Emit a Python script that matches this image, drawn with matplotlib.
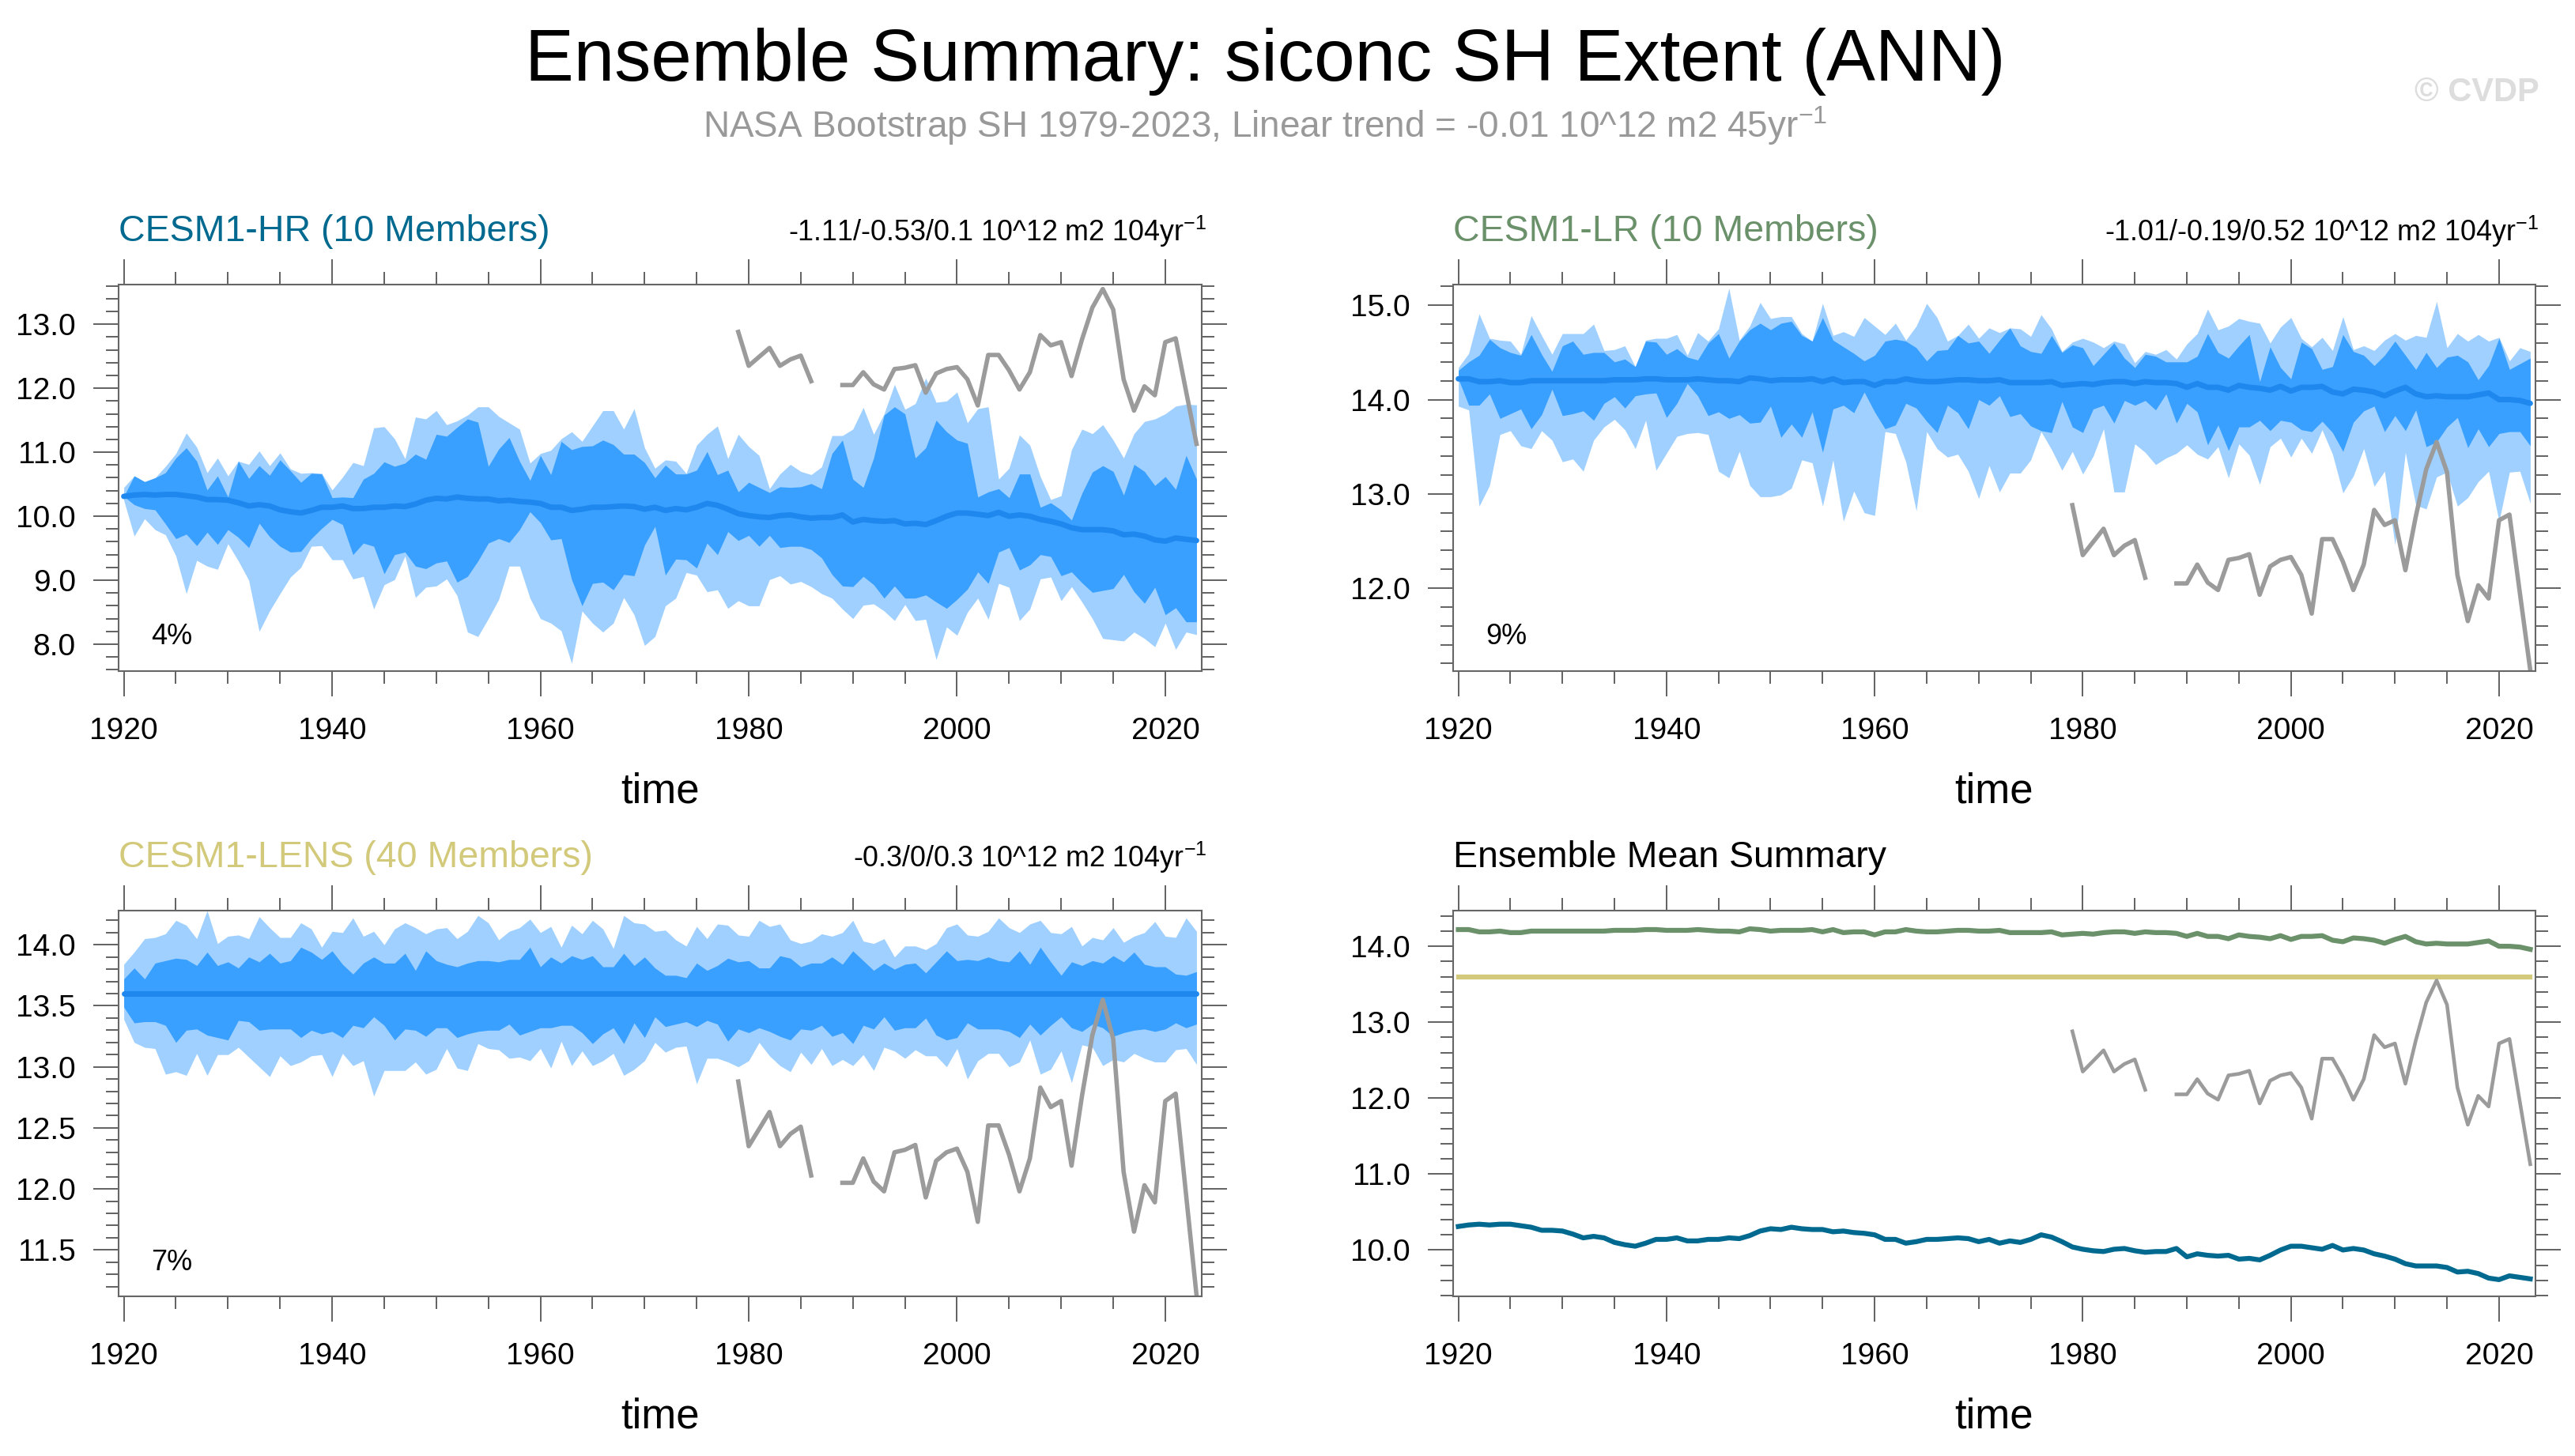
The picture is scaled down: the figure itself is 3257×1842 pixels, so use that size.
import numpy as np
import matplotlib
matplotlib.use('Agg')
import matplotlib.pyplot as plt
from matplotlib.ticker import MultipleLocator, FormatStrFormatter

plt.rcParams['font.family'] = ['Liberation Sans', 'DejaVu Sans']
plt.rcParams['mathtext.fontset'] = 'custom'
plt.rcParams['mathtext.rm'] = 'Liberation Sans'
plt.rcParams['mathtext.default'] = 'regular'

years = np.arange(1920, 2024)
obs_years = np.arange(1979, 2024)

# NASA Bootstrap observations (1987-1988 missing)
obs = [12.88, 12.35, 12.49, 12.63, 12.35, 12.45, 12.51, 12.11, np.nan, np.nan,
       12.05, 12.05, 12.25, 12.06, 11.98, 12.30, 12.32, 12.36, 11.93, 12.23,
       12.30, 12.33, 12.14, 11.73, 12.52, 12.52, 12.28, 11.98, 12.25, 12.83,
       12.67, 12.72, 12.19, 12.76, 13.26, 13.55, 13.23, 12.14, 11.65, 12.03,
       11.89, 12.72, 12.78, 11.95, 11.13]

# CESM1-HR: outer upper, inner upper, mean, inner lower, outer lower
hr_hi = [10.45, 10.63, 10.54, 10.60, 10.78, 10.98, 11.30, 11.08, 10.68, 10.91,
         10.63, 10.86, 10.81, 11.02, 10.79, 10.99, 10.74, 10.67, 10.68, 10.67,
         10.41, 10.61, 10.84, 10.79, 11.38, 11.40, 11.21, 10.90, 11.55, 11.52,
         11.65, 11.43, 11.49, 11.58, 11.71, 11.71, 11.56, 11.46, 11.36, 10.83,
         10.98, 11.03, 11.21, 11.32, 11.17, 11.41, 11.65, 11.65, 11.36, 11.68,
         11.07, 10.75, 10.88, 10.86, 10.67, 11.11, 11.28, 11.41, 10.90, 11.28,
         11.09, 10.95, 10.43, 10.66, 10.81, 10.70, 10.65, 10.77, 11.26, 11.26,
         11.36, 11.70, 11.28, 11.60, 12.06, 11.67, 11.76, 12.16, 11.78, 11.80,
         11.94, 11.46, 11.68, 11.71, 10.58, 10.75, 11.27, 11.11, 10.62, 10.26,
         10.32, 11.04, 11.36, 11.29, 11.43, 11.19, 10.91, 11.29, 11.48, 11.52,
         11.60, 11.72, 11.75, 11.74]
hr_q3 = [10.31, 10.63, 10.54, 10.60, 10.68, 10.91, 11.07, 10.86, 10.41, 10.63,
         10.30, 10.86, 10.59, 10.79, 10.64, 10.88, 10.71, 10.53, 10.67, 10.66,
         10.29, 10.30, 10.29, 10.58, 10.67, 10.85, 10.78, 10.83, 10.97, 10.89,
         11.28, 11.25, 11.39, 11.52, 11.47, 10.78, 11.05, 11.23, 10.86, 10.56,
         10.95, 10.65, 11.17, 11.04, 11.09, 11.10, 11.19, 11.12, 10.97, 10.97,
         10.84, 10.60, 10.80, 10.66, 10.66, 10.72, 11.01, 10.65, 10.72, 10.38,
         10.53, 10.45, 10.37, 10.46, 10.45, 10.46, 10.51, 10.43, 10.98, 11.19,
         10.58, 10.45, 10.91, 11.58, 11.71, 11.60, 10.91, 11.07, 11.50, 11.32,
         11.19, 11.14, 10.30, 10.38, 10.43, 10.29, 10.66, 10.66, 10.14, 10.21,
         10.10, 9.94, 10.36, 10.69, 10.79, 10.70, 10.33, 10.81, 10.70, 10.48,
         10.62, 10.42, 10.95, 10.58]
hr_mean = [10.31, 10.33, 10.34, 10.33, 10.34, 10.34, 10.32, 10.30, 10.26, 10.26,
           10.25, 10.21, 10.16, 10.18, 10.16, 10.10, 10.07, 10.05, 10.09, 10.14,
           10.14, 10.16, 10.12, 10.12, 10.14, 10.14, 10.16, 10.15, 10.19, 10.25,
           10.28, 10.27, 10.30, 10.28, 10.27, 10.27, 10.24, 10.25, 10.23, 10.22,
           10.20, 10.14, 10.14, 10.09, 10.11, 10.14, 10.14, 10.15, 10.16, 10.15,
           10.11, 10.14, 10.09, 10.12, 10.10, 10.14, 10.20, 10.17, 10.11, 10.04,
           10.01, 9.99, 9.98, 10.01, 10.02, 9.99, 9.97, 9.98, 9.98, 10.02,
           9.91, 9.95, 9.93, 9.92, 9.93, 9.88, 9.89, 9.87, 9.93, 10.00,
           10.05, 10.05, 10.03, 10.01, 10.06, 10.00, 10.02, 10.00, 9.95, 9.92,
           9.88, 9.82, 9.79, 9.79, 9.79, 9.77, 9.71, 9.72, 9.69, 9.63,
           9.61, 9.66, 9.64, 9.62]
hr_q1 = [10.31, 10.18, 10.12, 10.10, 9.88, 9.65, 9.72, 9.54, 9.75, 9.56,
         9.79, 9.67, 9.51, 9.89, 9.68, 9.53, 9.44, 9.45, 9.65, 9.81,
         9.95, 9.87, 9.40, 9.58, 9.53, 9.10, 9.40, 9.44, 9.22, 9.18,
         9.27, 9.30, 8.97, 9.06, 9.30, 9.58, 9.65, 9.59, 9.79, 10.07,
         9.90, 9.63, 9.65, 9.01, 8.60, 8.95, 8.97, 8.85, 9.09, 9.07,
         9.55, 9.84, 9.08, 9.33, 9.32, 9.19, 9.58, 9.40, 9.76, 9.62,
         9.70, 9.53, 9.70, 9.51, 9.53, 9.53, 9.48, 9.35, 9.09, 8.91,
         8.90, 9.06, 8.93, 8.72, 8.91, 8.72, 8.72, 8.77, 8.66, 8.56,
         8.70, 8.86, 9.13, 8.95, 9.44, 9.51, 9.16, 9.24, 9.40, 9.37,
         9.07, 9.13, 8.96, 8.81, 8.84, 8.87, 9.09, 8.82, 8.64, 8.89,
         8.46, 8.57, 8.35, 8.35]
hr_lo = [10.25, 9.69, 9.96, 9.79, 9.71, 9.38, 8.79, 9.31, 9.22, 9.17,
         9.57, 9.30, 9.00, 8.20, 8.52, 8.79, 9.05, 9.20, 9.53, 9.54,
         9.32, 9.32, 9.02, 9.06, 8.55, 8.93, 9.01, 9.38, 8.73, 8.89,
         8.91, 9.02, 8.76, 8.19, 8.12, 8.40, 8.70, 9.22, 9.22, 8.72,
         8.40, 8.33, 8.21, 7.70, 8.52, 8.33, 8.19, 8.33, 8.73, 8.46,
         7.98, 8.12, 8.60, 8.72, 9.12, 9.08, 8.82, 8.85, 8.56, 8.68,
         8.60, 8.60, 9.01, 9.07, 8.94, 8.98, 8.90, 8.79, 8.72, 8.55,
         8.40, 8.61, 8.63, 8.52, 8.37, 8.62, 8.37, 8.39, 7.76, 8.27,
         8.14, 8.50, 8.72, 8.39, 8.95, 8.89, 8.37, 8.55, 9.02, 9.05,
         8.68, 8.90, 8.66, 8.40, 8.09, 8.07, 8.05, 8.19, 8.09, 7.96,
         8.33, 7.92, 8.19, 8.15]

# CESM1-LR
lr_hi = [14.34, 14.49, 14.91, 14.65, 14.63, 14.62, 14.48, 14.89, 14.68, 14.48,
         14.70, 14.70, 14.70, 14.80, 14.52, 14.53, 14.57, 14.35, 14.63, 14.65,
         14.65, 14.69, 14.47, 14.71, 14.62, 14.75, 15.18, 14.63, 14.78, 15.03,
         14.86, 14.88, 14.88, 14.70, 14.62, 15.02, 14.68, 14.72, 14.67, 14.87,
         14.78, 14.69, 14.81, 14.63, 14.78, 15.02, 14.87, 14.62, 14.68, 14.80,
         14.65, 14.76, 14.71, 14.76, 14.75, 14.67, 14.90, 14.75, 14.51, 14.61,
         14.65, 14.61, 14.55, 14.62, 14.59, 14.39, 14.51, 14.48, 14.53, 14.43,
         14.59, 14.70, 14.96, 14.74, 14.78, 14.86, 14.83, 14.81, 14.60, 14.77,
         14.87, 14.65, 14.56, 14.66, 14.52, 14.88, 14.53, 14.57, 14.52, 14.63,
         14.70, 14.63, 14.68, 14.66, 15.04, 14.55, 14.70, 14.62, 14.69, 14.62,
         14.66, 14.41, 14.55, 14.51]
lr_q3 = [14.31, 14.40, 14.47, 14.64, 14.55, 14.50, 14.47, 14.69, 14.48, 14.30,
         14.57, 14.62, 14.48, 14.50, 14.50, 14.40, 14.43, 14.35, 14.62, 14.61,
         14.48, 14.54, 14.45, 14.42, 14.60, 14.70, 14.44, 14.62, 14.74, 14.81,
         14.74, 14.81, 14.83, 14.68, 14.62, 14.87, 14.63, 14.56, 14.49, 14.41,
         14.47, 14.62, 14.64, 14.62, 14.55, 14.41, 14.52, 14.53, 14.68, 14.60,
         14.62, 14.49, 14.63, 14.76, 14.57, 14.51, 14.49, 14.68, 14.50, 14.58,
         14.55, 14.36, 14.48, 14.60, 14.44, 14.34, 14.48, 14.46, 14.40, 14.40,
         14.40, 14.46, 14.70, 14.50, 14.44, 14.57, 14.69, 14.19, 14.56, 14.34,
         14.22, 14.61, 14.54, 14.32, 14.35, 14.69, 14.51, 14.47, 14.36, 14.47,
         14.62, 14.47, 14.32, 14.50, 14.34, 14.45, 14.47, 14.40, 14.21, 14.36,
         14.65, 14.32, 14.38, 14.44]
lr_mean = [14.22, 14.22, 14.19, 14.19, 14.20, 14.18, 14.18, 14.20, 14.20, 14.20,
           14.20, 14.20, 14.20, 14.20, 14.20, 14.21, 14.21, 14.21, 14.22, 14.22,
           14.21, 14.21, 14.21, 14.22, 14.21, 14.20, 14.20, 14.19, 14.23, 14.22,
           14.20, 14.21, 14.21, 14.21, 14.22, 14.19, 14.22, 14.18, 14.19, 14.19,
           14.15, 14.19, 14.19, 14.22, 14.20, 14.19, 14.19, 14.20, 14.21, 14.21,
           14.20, 14.20, 14.21, 14.18, 14.18, 14.18, 14.18, 14.19, 14.15, 14.16,
           14.17, 14.16, 14.18, 14.19, 14.19, 14.17, 14.19, 14.18, 14.18, 14.17,
           14.13, 14.17, 14.13, 14.13, 14.10, 14.15, 14.13, 14.12, 14.10, 14.14,
           14.09, 14.13, 14.13, 14.14, 14.08, 14.06, 14.11, 14.10, 14.08, 14.04,
           14.09, 14.13, 14.06, 14.03, 14.04, 14.03, 14.03, 14.03, 14.05, 14.07,
           14.00, 14.00, 13.99, 13.96]
lr_q1 = [14.22, 13.94, 13.94, 14.06, 13.80, 13.85, 13.90, 13.69, 13.84, 14.11,
         13.83, 13.85, 13.88, 13.78, 13.96, 14.03, 13.91, 14.04, 14.06, 14.07,
         13.81, 13.96, 14.17, 14.04, 13.83, 13.87, 13.80, 13.84, 13.75, 13.76,
         13.93, 13.60, 13.74, 13.60, 13.87, 13.44, 13.90, 13.94, 13.86, 14.08,
         13.87, 13.69, 13.73, 13.96, 13.91, 13.77, 13.65, 13.94, 13.86, 13.69,
         14.00, 13.94, 14.04, 13.82, 13.85, 13.72, 13.67, 13.65, 13.98, 13.71,
         13.65, 13.90, 13.94, 13.75, 13.99, 13.94, 13.99, 13.89, 14.06, 13.75,
         13.96, 13.87, 13.52, 13.73, 13.46, 13.71, 13.71, 13.78, 13.67, 13.78,
         13.76, 13.68, 13.66, 13.77, 13.65, 13.45, 13.76, 13.88, 13.93, 13.66,
         13.83, 13.67, 13.89, 13.50, 13.55, 13.71, 13.81, 13.49, 13.69, 13.50,
         13.64, 13.66, 13.66, 13.51]
lr_lo = [13.93, 13.89, 12.87, 13.09, 13.63, 13.67, 13.51, 13.48, 13.67, 13.57,
         13.34, 13.37, 13.24, 13.57, 13.71, 13.79, 13.68, 13.48, 13.78, 13.25,
         13.43, 13.61, 13.64, 13.65, 13.63, 13.24, 13.17, 13.45, 13.09, 12.97,
         12.97, 12.99, 13.06, 13.36, 13.33, 12.87, 13.36, 12.71, 13.03, 12.80,
         12.77, 13.66, 13.64, 13.34, 12.82, 13.66, 13.48, 13.39, 13.42, 13.24,
         12.95, 13.30, 13.02, 13.22, 13.22, 13.36, 13.66, 13.47, 13.25, 13.45,
         13.21, 13.40, 13.69, 13.02, 13.02, 13.53, 13.44, 13.31, 13.38, 13.43,
         13.52, 13.42, 13.37, 13.50, 13.17, 13.53, 13.41, 13.10, 13.50, 13.59,
         13.39, 13.59, 13.43, 13.68, 13.42, 13.01, 13.19, 13.48, 13.08, 13.24,
         12.46, 13.44, 12.88, 12.84, 13.18, 13.23, 12.87, 12.96, 13.13, 13.24,
         12.71, 13.23, 13.24, 12.90]

# CESM1-LENS
lens_hi = [13.84, 13.94, 14.05, 14.06, 14.09, 14.20, 14.16, 14.05, 14.28, 14.01,
           14.07, 14.08, 14.05, 14.23, 14.14, 14.06, 14.06, 14.18, 14.13, 13.98,
           14.11, 14.10, 14.22, 14.07, 14.11, 14.00, 14.13, 14.18, 14.14, 14.09,
           14.13, 14.14, 14.05, 14.11, 14.24, 14.18, 14.04, 14.11, 14.14, 14.21,
           14.10, 14.15, 13.98, 14.16, 14.09, 14.20, 14.13, 13.97, 14.24, 14.18,
           14.17, 14.11, 14.12, 14.04, 13.99, 14.15, 14.05, 14.17, 14.16, 14.08,
           14.07, 14.20, 14.15, 14.17, 14.04, 14.01, 14.03, 14.09, 14.07, 14.10,
           14.20, 14.03, 14.01, 14.05, 13.90, 13.99, 13.99, 13.96, 14.01, 14.14,
           14.17, 14.08, 14.07, 14.11, 14.22, 14.14, 14.10, 14.17, 14.20, 14.10,
           14.09, 14.15, 13.99, 14.06, 14.04, 14.14, 14.02, 14.07, 14.10, 14.19,
           14.07, 14.06, 14.22, 14.11]
lens_q3 = [13.72, 13.81, 13.72, 13.85, 13.87, 13.89, 13.88, 13.83, 13.94, 13.83,
           13.86, 13.81, 13.90, 13.86, 13.93, 13.85, 13.87, 13.98, 13.94, 13.88,
           13.95, 13.84, 13.76, 13.85, 13.90, 13.85, 13.85, 13.93, 13.79, 13.95,
           13.87, 13.84, 13.82, 13.85, 13.87, 13.87, 13.86, 13.88, 13.88, 13.98,
           13.82, 13.90, 13.85, 13.91, 13.88, 13.91, 13.82, 13.82, 13.93, 13.83,
           13.90, 13.81, 13.75, 13.75, 13.73, 13.85, 13.79, 13.83, 13.89, 13.86,
           13.87, 13.81, 13.81, 13.91, 13.89, 13.82, 13.85, 13.85, 13.90, 13.84,
           13.95, 13.87, 13.79, 13.85, 13.80, 13.84, 13.85, 13.77, 13.86, 13.95,
           13.87, 13.88, 13.87, 13.90, 13.87, 13.86, 13.95, 13.84, 13.98, 13.86,
           13.75, 13.86, 13.83, 13.87, 13.85, 13.91, 13.86, 13.94, 13.84, 13.82,
           13.82, 13.76, 13.75, 13.78]
lens_mean = [13.60, 13.60, 13.60, 13.60, 13.60, 13.60, 13.60, 13.60, 13.60, 13.60,
             13.60, 13.60, 13.60, 13.60, 13.60, 13.60, 13.60, 13.60, 13.60, 13.60,
             13.60, 13.60, 13.60, 13.60, 13.60, 13.60, 13.60, 13.60, 13.60, 13.60,
             13.60, 13.60, 13.60, 13.60, 13.60, 13.60, 13.60, 13.60, 13.60, 13.60,
             13.60, 13.60, 13.60, 13.60, 13.60, 13.60, 13.60, 13.60, 13.60, 13.60,
             13.60, 13.60, 13.60, 13.60, 13.60, 13.60, 13.60, 13.60, 13.60, 13.60,
             13.60, 13.60, 13.60, 13.60, 13.60, 13.60, 13.60, 13.60, 13.60, 13.60,
             13.60, 13.60, 13.60, 13.60, 13.60, 13.60, 13.60, 13.60, 13.60, 13.60,
             13.60, 13.60, 13.60, 13.60, 13.60, 13.60, 13.60, 13.60, 13.60, 13.60,
             13.60, 13.60, 13.60, 13.60, 13.60, 13.60, 13.60, 13.60, 13.60, 13.60,
             13.60, 13.60, 13.60, 13.60]
lens_q1 = [13.49, 13.36, 13.37, 13.37, 13.34, 13.20, 13.30, 13.31, 13.26, 13.24,
           13.22, 13.38, 13.37, 13.30, 13.31, 13.31, 13.31, 13.24, 13.30, 13.27,
           13.29, 13.24, 13.34, 13.32, 13.41, 13.34, 13.22, 13.31, 13.30, 13.25,
           13.32, 13.32, 13.24, 13.27, 13.29, 13.30, 13.30, 13.35, 13.26, 13.29,
           13.32, 13.32, 13.34, 13.34, 13.28, 13.19, 13.27, 13.32, 13.19, 13.36,
           13.24, 13.41, 13.33, 13.35, 13.37, 13.33, 13.38, 13.35, 13.21, 13.31,
           13.28, 13.32, 13.29, 13.25, 13.22, 13.31, 13.30, 13.34, 13.25, 13.28,
           13.19, 13.34, 13.31, 13.41, 13.30, 13.32, 13.32, 13.40, 13.26, 13.22,
           13.24, 13.36, 13.31, 13.31, 13.31, 13.29, 13.24, 13.35, 13.26, 13.34,
           13.41, 13.32, 13.29, 13.35, 13.32, 13.25, 13.28, 13.30, 13.31, 13.29,
           13.31, 13.36, 13.32, 13.35]
lens_lo = [13.39, 13.20, 13.16, 13.15, 12.94, 12.96, 12.93, 13.11, 12.93, 13.10,
           13.10, 13.16, 13.08, 13.00, 12.92, 13.09, 13.01, 13.04, 13.09, 13.10,
           12.92, 13.11, 13.01, 13.05, 12.76, 12.97, 12.97, 12.97, 13.04, 12.94,
           12.98, 13.15, 12.99, 12.97, 13.19, 13.15, 13.14, 13.07, 13.08, 13.05,
           13.15, 12.99, 13.21, 13.01, 13.13, 13.01, 13.05, 13.11, 12.93, 12.98,
           13.05, 13.20, 13.12, 13.16, 13.17, 12.86, 13.07, 13.07, 13.04, 13.00,
           13.05, 13.20, 13.09, 13.01, 12.96, 13.12, 13.02, 13.15, 13.01, 13.06,
           13.01, 13.10, 12.97, 13.16, 13.13, 13.07, 13.14, 13.09, 13.09, 13.00,
           13.15, 12.90, 13.05, 13.11, 13.11, 13.00, 13.04, 13.22, 12.94, 12.98,
           13.13, 12.87, 13.18, 13.16, 13.01, 13.06, 13.04, 13.11, 13.07, 13.04,
           13.04, 13.14, 13.15, 13.02]

LIGHT = '#9fd0ff'
DARK = '#39a0ff'
MEANC = '#1f88ee'
GRAY = '#9b9b9b'
HRC = '#00698f'
LRC = '#6b916b'
LENSC = '#d2c97a'

W, H = 3257, 1842


def fx(px):
    return px / W


def fy(py):
    return 1 - py / H


fig = plt.figure(figsize=(W / 100, H / 100), dpi=100)

ax1 = fig.add_axes([fx(150), fy(849), fx(1370), 489 / H])
ax2 = fig.add_axes([fx(1838), fy(849), fx(1369), 489 / H])
ax3 = fig.add_axes([fx(150), fy(1640), fx(1370), 488 / H])
ax4 = fig.add_axes([fx(1838), fy(1640), fx(1369), 488 / H])


def style(ax, ylo, yhi, ymaj, ymin):
    ax.set_xlim(1919.5, 2023.5)
    ax.set_ylim(ylo, yhi)
    ax.xaxis.set_major_locator(MultipleLocator(20))
    ax.xaxis.set_minor_locator(MultipleLocator(5))
    ax.yaxis.set_major_locator(MultipleLocator(ymaj))
    ax.yaxis.set_minor_locator(MultipleLocator(ymin))
    ax.yaxis.set_major_formatter(FormatStrFormatter('%.1f'))
    ax.tick_params(which='both', direction='out', top=True, right=True,
                   color='#555555', width=1.3)
    ax.tick_params(which='major', length=23, labelsize=28)
    ax.tick_params(axis='x', which='major', pad=19)
    ax.tick_params(axis='y', which='major', pad=16)
    ax.tick_params(which='minor', length=11.5)
    for s in ax.spines.values():
        s.set_color('#666666')
        s.set_linewidth(1.5)
    ax.set_xlabel('time', fontsize=38, labelpad=24)


def ensemble(ax, hi, q3, mean, q1, lo, pct):
    ax.fill_between(years, lo, hi, color=LIGHT, lw=0)
    ax.fill_between(years, q1, q3, color=DARK, lw=0)
    ax.plot(years, mean, color=MEANC, lw=5, solid_capstyle='round')
    ax.plot(obs_years, obs, color=GRAY, lw=4)
    ax.text(0.03, 0.088, pct, transform=ax.transAxes, fontsize=26, va='center')


ensemble(ax1, hr_hi, hr_q3, hr_mean, hr_q1, hr_lo, '4%')
style(ax1, 7.58, 13.62, 1.0, 0.2)

ensemble(ax2, lr_hi, lr_q3, lr_mean, lr_q1, lr_lo, '9%')
style(ax2, 11.12, 15.22, 1.0, 0.2)

ensemble(ax3, lens_hi, lens_q3, lens_mean, lens_q1, lens_lo, '7%')
style(ax3, 11.12, 14.28, 0.5, 0.1)

ax4.plot(years, lr_mean, color=LRC, lw=4.5)
ax4.plot(years, lens_mean, color=LENSC, lw=4.5)
ax4.plot(years, hr_mean, color=HRC, lw=4.5)
ax4.plot(obs_years, obs, color=GRAY, lw=3.3)
style(ax4, 9.39, 14.47, 1.0, 0.2)

# titles
fig.text(fx(1600), fy(102), 'Ensemble Summary: siconc SH Extent (ANN)',
         fontsize=66.7, ha='center', va='baseline')
fig.text(fx(1600), fy(174),
         'NASA Bootstrap SH 1979-2023, Linear trend = -0.01 10^12 m2 45yr$^{-1}$',
         fontsize=33, color='#999999', ha='center', va='baseline')
fig.text(fx(3212), fy(128), '\u00a9 CVDP', fontsize=30, fontweight='bold',
         color='#dddddd', ha='right', va='baseline')

fig.text(fx(150), fy(305), 'CESM1-HR (10 Members)', fontsize=33.5,
         color=HRC, va='baseline')
fig.text(fx(1526), fy(305), '-1.11/-0.53/0.1 10^12 m2 104yr$^{-1}$',
         fontsize=25.8, ha='right', va='baseline')
fig.text(fx(1838), fy(305), 'CESM1-LR (10 Members)', fontsize=33.5,
         color=LRC, va='baseline')
fig.text(fx(3211), fy(305), '-1.01/-0.19/0.52 10^12 m2 104yr$^{-1}$',
         fontsize=25.8, ha='right', va='baseline')
fig.text(fx(150), fy(1097), 'CESM1-LENS (40 Members)', fontsize=33.5,
         color=LENSC, va='baseline')
fig.text(fx(1526), fy(1097), '-0.3/0/0.3 10^12 m2 104yr$^{-1}$',
         fontsize=25.8, ha='right', va='baseline')
fig.text(fx(1838), fy(1097), 'Ensemble Mean Summary', fontsize=33.5,
         va='baseline')

fig.savefig('out.png', dpi=100)
